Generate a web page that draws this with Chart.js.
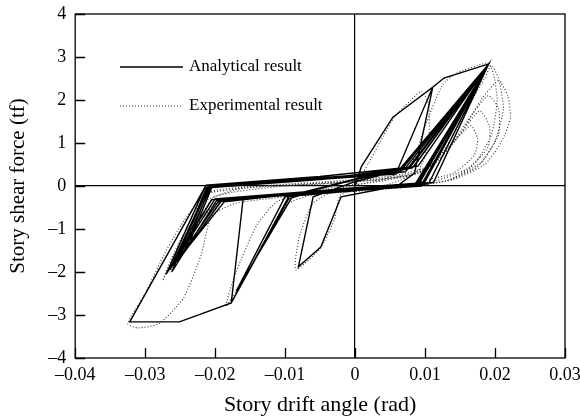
<!DOCTYPE html>
<html>
<head>
<meta charset="utf-8">
<script src="https://cdn.jsdelivr.net/npm/chart.js@4/dist/chart.umd.min.js"></script>
<style>
  html, body { margin: 0; padding: 0; background: #fff; }
  #wrap { width: 580px; height: 419px; }
</style>
</head>
<body>
<div id="wrap"><canvas id="grafico"></canvas></div>
<script>
// ticks de los ejes
const ticksX = [-0.04, -0.03, -0.02, -0.01, 0, 0.01, 0.02, 0.03]
const ticksY = [-4, -3, -2, -1, 0, 1, 2, 3, 4]

// resultado analitico (drift rad, shear tf)
const analiticoX = [
  0, 0.0009, 0.0054, 0.0111, 0.0085, 0.0060, -0.0020, -0.0049, -0.0081,
  -0.0060, 0.0000, 0.0060, 0.0111, 0.0127, 0.0191,
  0.0100, 0.0040, -0.0080, -0.0095, -0.0177,
  -0.0095, 0.0000, 0.0075, 0.0191,
  0.0105, 0.0000, -0.0100, -0.0170,
  -0.0088, 0.0005, 0.0082, 0.0191,
  0.0095, -0.0050, -0.0160, -0.0177, -0.0251, -0.0322,
  -0.0213, -0.0050, 0.0084, 0.0191,
  0.0098, -0.0050, -0.0205, -0.0270,
  -0.0215, -0.0050, 0.0065, 0.0191,
  0.0092, -0.0060, -0.0200, -0.0265,
  -0.0210, -0.0040, 0.0070, 0.0191,
  0.0088, -0.0070, -0.0195, -0.0260,
  -0.0208, -0.0030, 0.0078, 0.0191,
  0.0096, -0.0040, -0.0187, -0.0255,
  -0.0205, -0.0020, 0.0061, 0.0191,
  0.0090, -0.0050, -0.0190, -0.0245,
  -0.0207, -0.0060, 0.0072, 0.0191,
  0.0112, -0.0020, -0.0198, -0.0262,
  -0.0212, -0.0080, 0.0058, 0.0191,
  0.0085, -0.0030, -0.0192, -0.0240,
  -0.0204, -0.0010, 0.0090, 0.0191
]
const analiticoY = [
  0, 0.45, 1.60, 2.30, 0.30, 0.00, -0.25, -1.42, -1.88,
  -0.25, 0.10, 0.35, 2.30, 2.51, 2.84,
  0.10, -0.05, -0.22, -0.30, -2.72,
  -0.25, 0.15, 0.40, 2.84,
  0.05, -0.08, -0.25, -2.45,
  -0.20, 0.18, 0.42, 2.84,
  0.00, -0.15, -0.30, -2.72, -3.16, -3.16,
  0.02, 0.22, 0.45, 2.84,
  0.05, -0.15, -0.32, -2.05,
  -0.05, 0.15, 0.35, 2.84,
  0.07, -0.12, -0.30, -1.95,
  -0.02, 0.18, 0.38, 2.84,
  0.03, -0.15, -0.35, -1.85,
  0.00, 0.20, 0.42, 2.84,
  0.06, -0.10, -0.37, -1.75,
  0.01, 0.22, 0.30, 2.84,
  0.04, -0.14, -0.33, -1.55,
  -0.01, 0.16, 0.33, 2.84,
  0.08, -0.06, -0.34, -2.00,
  -0.03, 0.12, 0.28, 2.84,
  0.02, -0.09, -0.36, -1.45,
  0.00, 0.24, 0.46, 2.84
]

// resultado experimental
const experimentalX = [
  0, 0.002, 0.004, 0.0056, 0.008, 0.0095,
  0.0105, 0.0105, 0.009, 0.005, -0.002,
  -0.003, -0.005, -0.0085,
  -0.008, -0.006, -0.002, 0.004, 0.008, 0.010, 0.0125, 0.0145, 0.0175, 0.019,
  0.0198, 0.0203, 0.0195, 0.017, 0.013, 0.005, -0.006, -0.010,
  -0.013, -0.016, -0.0185,
  -0.017, -0.014, -0.011, -0.004, 0.004, 0.010, 0.013, 0.016, 0.0185, 0.0195,
  0.0205, 0.0212, 0.020, 0.0175, 0.013, 0.005, -0.008, -0.017, -0.0205,
  -0.022, -0.0245, -0.028, -0.031, -0.0325,
  -0.030, -0.027, -0.024, -0.021, -0.014, -0.004, 0.006, 0.011, 0.015, 0.018, 0.0205,
  0.0218, 0.0222, 0.021, 0.0185, 0.014, 0.006, -0.008, -0.019, -0.023, -0.026, -0.0275,
  -0.026, -0.0235, -0.0215, -0.012, 0.000, 0.009, 0.013, 0.016, 0.019,
  0.0205, 0.0205, 0.018, 0.013, 0.002, -0.012, -0.020, -0.024, -0.0265,
  -0.025, -0.022, -0.016, -0.004, 0.008, 0.012, 0.015, 0.0178,
  0.0192, 0.019, 0.016, 0.011, 0.002, -0.010, -0.0195, -0.023, -0.0255,
  -0.023, -0.020, -0.010, 0.004, 0.010, 0.013, 0.0165,
  0.0175, 0.017, 0.014, 0.009
]
const experimentalY = [
  0, 0.55, 1.15, 1.60, 2.00, 2.20,
  1.90, 1.00, 0.35, 0.05, -0.20,
  -0.80, -1.45, -1.95,
  -1.20, -0.40, -0.05, 0.15, 0.50, 1.40, 2.35, 2.62, 2.80, 2.86,
  2.60, 2.00, 1.20, 0.50, 0.12, -0.05, -0.20, -0.45,
  -1.30, -2.20, -2.80,
  -2.00, -0.90, -0.35, -0.05, 0.12, 0.35, 0.90, 1.80, 2.50, 2.80,
  2.50, 1.80, 1.05, 0.45, 0.12, -0.05, -0.22, -0.40, -0.70,
  -1.60, -2.60, -3.20, -3.30, -3.20,
  -2.50, -1.50, -0.70, -0.15, 0.00, 0.10, 0.25, 0.50, 1.20, 2.00, 2.45,
  2.10, 1.60, 1.05, 0.50, 0.15, -0.05, -0.20, -0.35, -0.90, -1.70, -2.20,
  -1.60, -0.80, -0.20, 0.00, 0.12, 0.30, 0.80, 1.50, 2.10,
  1.80, 1.20, 0.55, 0.12, -0.10, -0.25, -0.40, -1.20, -2.00,
  -1.30, -0.40, -0.05, 0.05, 0.25, 0.60, 1.20, 1.75,
  1.40, 0.90, 0.40, 0.10, -0.08, -0.22, -0.38, -1.00, -1.70,
  -1.00, -0.25, 0.00, 0.15, 0.40, 0.85, 1.40,
  1.10, 0.70, 0.30, 0.10
]

const fuente = "'Liberation Serif', 'Times New Roman', serif"
const esCero = v => Math.abs(v) < 1e-9
const formatoX = v => esCero(v) ? "0" : (v < 0 ? "\u2013" : "") + Math.abs(v).toFixed(2)
const formatoY = v => esCero(v) ? "0" : (v < 0 ? "\u2013" : "") + Math.abs(Math.round(v))

const aPuntos = (xs, ys) => xs.map((x, i) => ({x: x, y: ys[i]}))

// marco, ticks hacia adentro y leyenda dentro del area
const pluginMarco = {
  id: "marco",
  afterDraw(chart) {
    const {ctx, chartArea: a, scales} = chart
    ctx.save()
    ctx.strokeStyle = "#000"
    ctx.lineWidth = 1.3
    ctx.strokeRect(a.left, a.top, a.right - a.left, a.bottom - a.top)
    ctx.beginPath()
    ticksX.forEach(v => {
      const px = Math.round(scales.x.getPixelForValue(v)) + 0.5
      ctx.moveTo(px, a.bottom)
      ctx.lineTo(px, a.bottom - 10)
    })
    ticksY.forEach(v => {
      const py = Math.round(scales.y.getPixelForValue(v)) + 0.5
      ctx.moveTo(a.left, py)
      ctx.lineTo(a.left + 10, py)
    })
    ctx.stroke()

    // leyenda
    const ds = chart.data.datasets
    const filas = [{y: 67, x0: 120, x1: 183}, {y: 106, x0: 120, x1: 183}]
    ctx.font = "17px " + fuente
    ctx.fillStyle = "#000"
    ctx.textBaseline = "middle"
    ds.forEach((d, i) => {
      const f = filas[i]
      ctx.beginPath()
      ctx.strokeStyle = d.borderColor
      ctx.lineWidth = d.borderWidth
      ctx.setLineDash(d.borderDash || [])
      ctx.moveTo(f.x0, f.y)
      ctx.lineTo(f.x1, f.y)
      ctx.stroke()
      ctx.setLineDash([])
      ctx.fillText(d.label, f.x1 + 6, f.y)
    })
    ctx.restore()
  }
}

new Chart(document.getElementById("grafico"), {
  type: "scatter",
  data: {
    datasets: [
      {
        label: "Analytical result",
        data: aPuntos(analiticoX, analiticoY),
        showLine: true,
        borderColor: "#000",
        borderWidth: 1.4,
        pointRadius: 0,
        tension: 0
      },
      {
        label: "Experimental result",
        data: aPuntos(experimentalX, experimentalY),
        showLine: true,
        borderColor: "#333",
        borderWidth: 1.1,
        borderDash: [1, 2],
        pointRadius: 0,
        tension: 0.2
      }
    ]
  },
  options: {
    responsive: true,
    maintainAspectRatio: false,
    animation: false,
    layout: { padding: { top: 0, right: 0, left: 6, bottom: 1 } },
    plugins: {
      legend: { display: false },
      tooltip: { enabled: false }
    },
    scales: {
      x: {
        type: "linear",
        min: -0.04,
        max: 0.03,
        afterBuildTicks: s => { s.ticks = ticksX.map(v => ({value: v})) },
        afterFit: s => { s.paddingRight = 15; s.height = 60 },
        ticks: {
          color: "#000",
          font: { family: fuente, size: 18 },
          padding: 6,
          maxRotation: 0,
          callback: formatoX
        },
        grid: {
          drawTicks: false,
          color: c => c.tick && esCero(c.tick.value) ? "#000" : "rgba(0,0,0,0)",
          lineWidth: 1.2
        },
        border: { display: false },
        title: {
          display: true,
          text: "Story drift angle (rad)",
          color: "#000",
          font: { family: fuente, size: 22 },
          padding: { top: 0, bottom: 0 }
        }
      },
      y: {
        type: "linear",
        min: -4,
        max: 4,
        afterBuildTicks: s => { s.ticks = ticksY.map(v => ({value: v})) },
        afterFit: s => { s.paddingTop = 14; s.paddingBottom = 0 },
        ticks: {
          color: "#000",
          font: { family: fuente, size: 18 },
          padding: 9,
          callback: formatoY
        },
        grid: {
          drawTicks: false,
          color: c => c.tick && esCero(c.tick.value) ? "#000" : "rgba(0,0,0,0)",
          lineWidth: 1.2
        },
        border: { display: false },
        title: {
          display: true,
          text: "Story shear force (tf)",
          color: "#000",
          font: { family: fuente, size: 21 },
          padding: { top: 0, bottom: 8 }
        }
      }
    }
  },
  plugins: [pluginMarco]
})
</script>
</body>
</html>
